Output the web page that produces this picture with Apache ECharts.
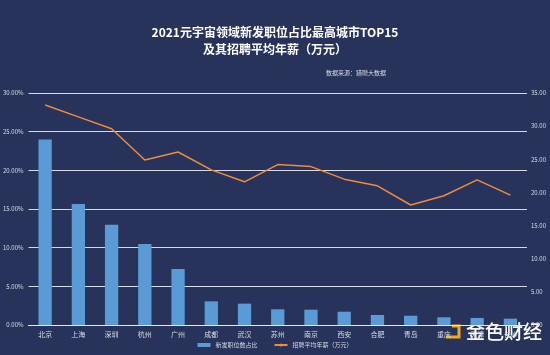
<!DOCTYPE html>
<html><head><meta charset="utf-8">
<script src="https://cdn.jsdelivr.net/npm/echarts@6/dist/echarts.min.js"></script>
<style>html,body{margin:0;padding:0;background:#27335a;}#c{width:550px;height:355px;}</style>
</head><body><div id="c"></div>
<script>
const categories = ['北京','上海','深圳','杭州','广州','成都','武汉','苏州','南京','西安','合肥','青岛','重庆','天津','长沙'];
const shareValues = [0.2400,0.1565,0.1297,0.1047,0.0724,0.0306,0.0276,0.0203,0.0198,0.0172,0.0129,0.0120,0.0100,0.0091,0.0082];
const salaryValues = [33.2,31.4,29.6,24.9,26.1,23.4,21.6,24.2,23.9,22.0,21.0,18.1,19.5,21.9,19.6];
const leftTicks = {min:0, max:0.30, interval:0.05};
const rightTicks = {min:0, max:35, interval:5};
const titleLines = ['2021元宇宙领域新发职位占比最高城市TOP15','及其招聘平均年薪（万元）'];
const sourceText = '数据来源：猎聘大数据';
const seriesNames = ['新发职位数占比','招聘平均年薪（万元）'];

const chart = echarts.init(document.getElementById('c'), null, {renderer:'canvas'});
const font = '"Noto Sans CJK SC", "Noto Sans", sans-serif';
chart.setOption({
  backgroundColor:'#27335a',
  animation:false,
  textStyle:{fontFamily:font},
  title:[{
    text: titleLines.join('\n'),
    left:'center', top:19,
    textStyle:{color:'#ffffff', fontSize:12, fontWeight:'bold', lineHeight:17, fontFamily:font}
  },{
    text: sourceText,
    left:321, top:65,
    textStyle:{color:'#d8dce6', fontSize:6, fontWeight:'normal', fontFamily:font}
  }],
  legend:{
    bottom:2, left:'center',
    itemWidth:13, itemHeight:4, itemGap:16,
    textStyle:{color:'#d8dce6', fontSize:6, fontFamily:font},
    data:[{name:seriesNames[0], icon:'rect'},{name:seriesNames[1]}]
  },
  grid:{left:27, right:23, top:93, bottom:30, containLabel:false},
  xAxis:{
    type:'category', data:categories,
    axisLine:{lineStyle:{color:'#e8ecf3', width:1}},
    axisTick:{show:false},
    axisLabel:{color:'#d8dce6', fontSize:7, margin:6, interval:0}
  },
  yAxis:[{
    type:'value', min:leftTicks.min, max:leftTicks.max, interval:leftTicks.interval,
    axisLine:{show:false}, axisTick:{show:false},
    splitLine:{lineStyle:{color:'#d4dae6', width:1}},
    axisLabel:{color:'#d8dce6', fontSize:6, margin:5, formatter:v=>(v*100).toFixed(2)+'%'}
  },{
    type:'value', min:rightTicks.min, max:rightTicks.max, interval:rightTicks.interval,
    axisLine:{show:false}, axisTick:{show:false}, splitLine:{show:false},
    axisLabel:{color:'#d8dce6', fontSize:6, margin:4, formatter:v=>v.toFixed(2)}
  }],
  series:[{
    name:seriesNames[0], type:'bar', data:shareValues, barWidth:'40%',
    itemStyle:{color:'#5b9bd5'}
  },{
    name:seriesNames[1], type:'line', yAxisIndex:1, data:salaryValues,
    symbol:'none', lineStyle:{color:'#ed8b3e', width:1.5}, itemStyle:{color:'#ed8b3e'}
  }],
  graphic:[
    {type:'polyline', shape:{points:[[452,326],[459,326],[459,337],[446,337]]}, style:{stroke:'#f4a81d', lineWidth:3, fill:null}},
    {type:'text', left:466, top:322, style:{text:'金色财经', fill:'#ffffff', font:'500 19px "Noto Sans CJK SC", sans-serif'}}
  ]
});
</script></body></html>
